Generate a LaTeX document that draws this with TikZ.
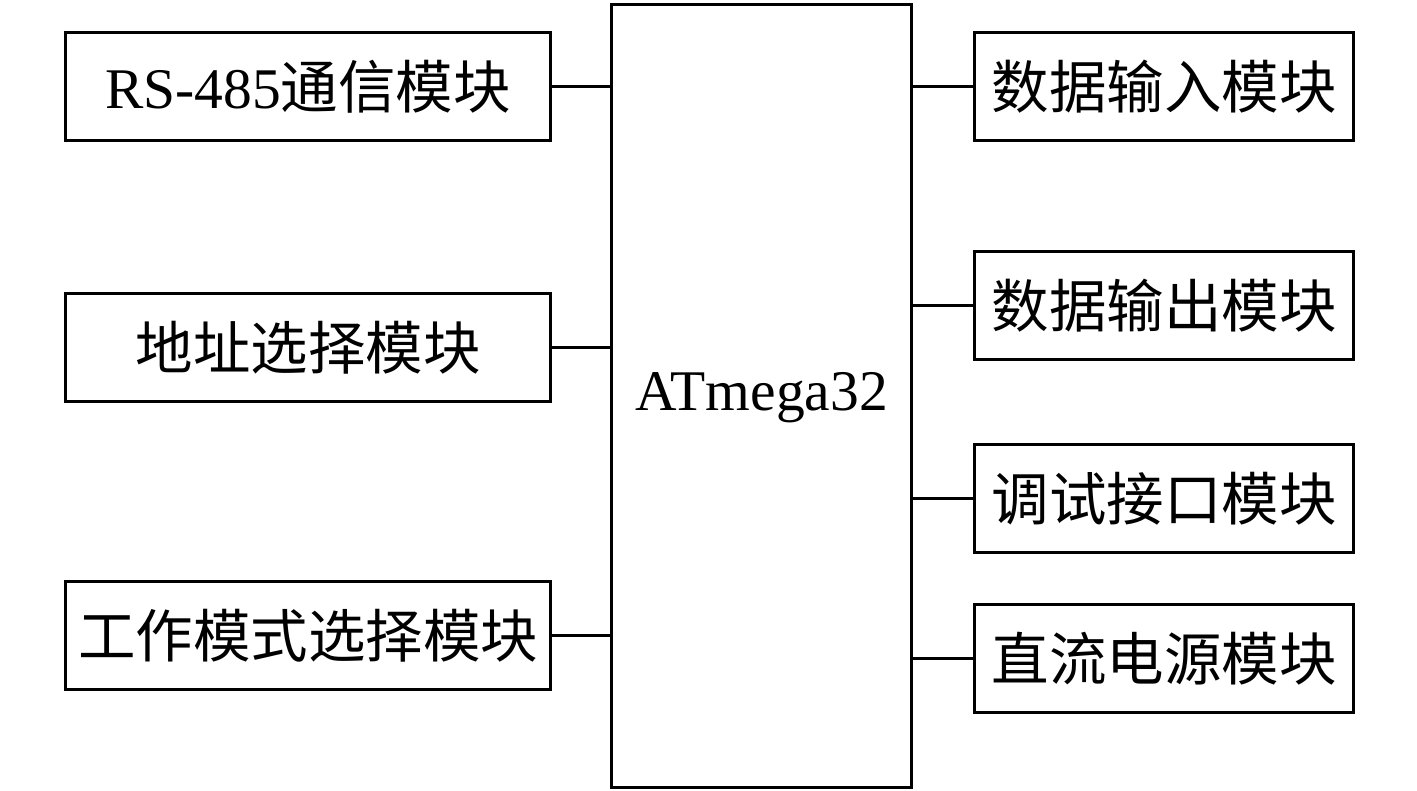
\documentclass[tikz,border=0pt]{standalone}
\usepackage{fontspec}
\setmainfont{Liberation Serif}
\newfontfamily\cjk{Noto Sans CJK SC}
\begin{document}
\begin{tikzpicture}[x=1pt,y=-1pt,
  blk/.style={draw=black,line width=3.2pt,inner sep=0pt,anchor=north west},
  lbl/.style={font=\fontsize{57.5}{62}\selectfont},
  conn/.style={line width=3.2pt}]
\useasboundingbox (0,0) rectangle (1417,791);
% central
\node[blk,minimum width=300pt,minimum height=783pt] (mcu) at (610,3) {};
\node[lbl] (mcut) at ([yshift=-2pt]mcu.center) {ATmega32};
% left boxes
\node[blk,minimum width=485pt,minimum height=108pt] (l1) at (64,31) {};
\node[lbl] at (l1.center) {RS-485{\cjk 通信模块}};
\node[blk,minimum width=485pt,minimum height=108pt] (l2) at (64,292) {};
\node[lbl] at (l2.center) {\cjk 地址选择模块};
\node[blk,minimum width=485pt,minimum height=108pt] (l3) at (64,580) {};
\node[lbl] at (l3.center) {\cjk 工作模式选择模块};
% right boxes
\node[blk,minimum width=379pt,minimum height=108pt] (r1) at (973,31) {};
\node[lbl] at (r1.center) {\cjk 数据输入模块};
\node[blk,minimum width=379pt,minimum height=108pt] (r2) at (973,250) {};
\node[lbl] at (r2.center) {\cjk 数据输出模块};
\node[blk,minimum width=379pt,minimum height=108pt] (r3) at (973,443) {};
\node[lbl] at (r3.center) {\cjk 调试接口模块};
\node[blk,minimum width=379pt,minimum height=108pt] (r4) at (973,603) {};
\node[lbl] at (r4.center) {\cjk 直流电源模块};
% connectors
\foreach \b in {l1,l2,l3} \draw[conn] (\b.east) -- (\b.east -| mcu.west);
\foreach \b in {r1,r2,r3,r4} \draw[conn] (\b.west) -- (\b.west -| mcu.east);
\end{tikzpicture}
\end{document}
